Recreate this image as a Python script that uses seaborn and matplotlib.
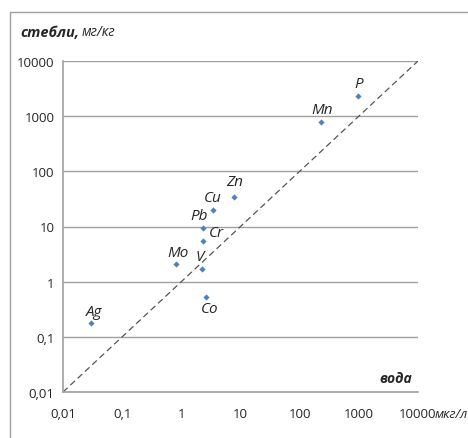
"""
Scatter: element content in stems vs water (log-log)
Output: out.png
"""

import matplotlib.pyplot as plt
import seaborn as sns
import pandas as pd
from matplotlib.lines import Line2D

# Data
elements = ['Ag', 'Mo', 'V', 'Cr', 'Pb', 'Cu', 'Zn', 'Co', 'Mn', 'P']
water = [0.03, 0.8, 2.2, 2.3, 2.3, 3.4, 7.8, 2.6, 230, 950]      # мкг/л
stems = [0.18, 2.1, 1.7, 5.5, 9.5, 19.5, 34, 0.52, 780, 2300]    # мг/кг

# label offsets in points (dx, dy)
offsets = {'Ag': (2, 8), 'Mo': (2, 8), 'V': (-1, 9), 'Cr': (10, 6), 'Pb': (-3, 9),
           'Cu': (0, 9), 'Zn': (0, 11), 'Co': (3, -8), 'Mn': (1, 9), 'P': (1, 9)}

ticks = [0.01, 0.1, 1, 10, 100, 1000, 10000]
tick_labels = ['0,01', '0,1', '1', '10', '100', '1000', '10000']

df = pd.DataFrame({'element': elements, 'water': water, 'stems': stems})

sns.set_style('white')
plt.rcParams['font.family'] = ['Open Sans', 'DejaVu Sans']

fig = plt.figure(figsize=(4.68, 4.39), dpi=100)
ax = fig.add_axes([63 / 468, 1 - 393 / 439, 355 / 468, 331 / 439])

# 1:1 line
ax.plot([0.01, 10000], [0.01, 10000], ls=(0, (5, 3)), color='#555555', lw=0.9, zorder=1)

sns.scatterplot(data=df, x='water', y='stems', marker='D', s=10, color='#4F81BD',
                edgecolor='#4F81BD', linewidth=0, ax=ax, zorder=3)

for name, xv, yv in zip(elements, water, stems):
    dx, dy = offsets[name]
    ax.annotate(name, (xv, yv), xytext=(dx, dy), textcoords='offset points',
                ha='center', va='center', fontsize=11, style='italic')

ax.set_xscale('log')
ax.set_yscale('log')
ax.set_xlim(0.01, 10000)
ax.set_ylim(0.01, 10000)
ax.set_xticks(ticks)
ax.set_yticks(ticks)
ax.set_xticklabels(tick_labels, fontsize=9.5)
ax.set_yticklabels(tick_labels, fontsize=9.5)
ax.minorticks_off()
ax.tick_params(axis='both', length=0)
ax.tick_params(axis='x', pad=11)
ax.tick_params(axis='y', pad=6)
ax.set_xlabel('')
ax.set_ylabel('')

ax.yaxis.grid(True, color='#A0A0A0', lw=1)
ax.xaxis.grid(False)
for side in ['top', 'right']:
    ax.spines[side].set_visible(False)
for side in ['left', 'bottom']:
    ax.spines[side].set_color('#A0A0A0')
    ax.spines[side].set_linewidth(1.2)

# axis captions
t1 = fig.text(20 / 468, 1 - 33 / 439, 'стебли,', fontsize=10.5, style='italic',
              fontweight='bold', va='center', ha='left')
fig.canvas.draw()
ax.annotate('мг/кг', xy=(1, 0.5), xycoords=t1, xytext=(2, 0), textcoords='offset points',
            fontsize=10, style='italic', va='center', ha='left', annotation_clip=False)
fig.text(412 / 468, 1 - 379 / 439, 'вода', fontsize=10, style='italic',
         fontweight='bold', va='center', ha='right')
fig.text(435 / 468, 1 - 415 / 439, 'мкг/л', fontsize=9.5, style='italic',
         va='center', ha='left')

# chart frame
fig.add_artist(Line2D([10 / 468, 10 / 468], [0, 1 - 13 / 439], transform=fig.transFigure,
                      color='#A0A0A0', lw=1))
fig.add_artist(Line2D([10 / 468, 1], [1 - 13 / 439, 1 - 13 / 439], transform=fig.transFigure,
                      color='#A0A0A0', lw=1))

fig.savefig('out.png', dpi=100, facecolor='white')
